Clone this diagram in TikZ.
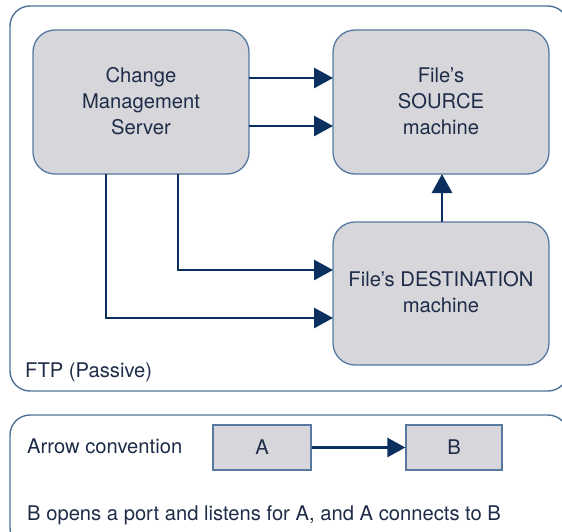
\documentclass[tikz,border=0pt]{standalone}
\usepackage{fontspec}
\setmainfont{TeX Gyre Heros}
\usetikzlibrary{arrows.meta,calc}
\definecolor{navy}{HTML}{0B2F5E}
\definecolor{txtc}{HTML}{1E2C48}
\definecolor{framec}{HTML}{4F7299}
\definecolor{boxfill}{HTML}{D6D6DB}
\definecolor{boxline}{HTML}{5778A0}
\begin{document}
\begin{tikzpicture}[x=1pt,y=-1pt,
  font=\fontsize{20.2}{26}\selectfont,
  every node/.style={text=txtc},
  frame/.style={draw=framec,line width=1.4pt,rounded corners=20pt},
  machine/.style={draw=boxline,fill=boxfill,line width=1.3pt,rounded corners=22pt,align=center},
  legbox/.style={draw=boxline,fill=boxfill,line width=1.3pt},
  conn/.style={draw=navy,line width=2.9pt,-{Triangle[length=19pt,width=20pt]}},
  lbl/.style={anchor=base west,inner sep=0pt}]
\useasboundingbox (0,0) rectangle (562,532);
\begin{scope}
\clip (0,0) rectangle (562,532);
\draw[frame] (10,6) rectangle (568,391);
\draw[frame] (10,415) rectangle (568,548);
\end{scope}
% machines
\path[machine] (33,30) rectangle (249,174);
\node[align=center,inner sep=0pt] (cms) at (141,101) {Change\\Management\\Server};
\coordinate (cmsE) at (249,102);
\coordinate (cmsS) at (141,174);
\path[machine] (333,30) rectangle (549,174);
\node[align=center,inner sep=0pt] (src) at (441,101) {File’s\\SOURCE\\machine};
\coordinate (srcW) at (333,102);
\coordinate (srcS) at (442,174);
\path[machine] (333,222) rectangle (549,365);
\node[align=center,inner sep=0pt] (dst) at (441,292) {File’s DESTINATION\\machine};
\coordinate (dstW) at (333,294);
\coordinate (dstN) at (442,222);
% helper levels
\coordinate (ya) at (0,78);
\coordinate (yb) at (0,126);
\coordinate (yc) at (0,270);
\coordinate (yd) at (0,318);
\coordinate (xa) at (178,0);
\coordinate (xb) at (106,0);
% connectors
\draw[conn] (cmsE |- ya) -- (srcW |- ya);
\draw[conn] (cmsE |- yb) -- (srcW |- yb);
\draw[conn] (xa |- cmsS) -- (xa |- yc) -- (dstW |- yc);
\draw[conn] (xb |- cmsS) -- (xb |- yd) -- (dstW |- yd);
\draw[conn] (dstN) -- (srcS);
% labels
\node[lbl] (ftp) at (25,377) {FTP (Passive)};
\node[lbl] (conv) at (27,453) {Arrow convention};
\node[legbox,minimum width=98pt,minimum height=45pt] (A) at (262,447.5) {A};
\node[legbox,minimum width=96pt,minimum height=45pt] (B) at (454,447.5) {B};
\draw[conn,line width=2.7pt,-{Triangle[length=18pt,width=19pt]}] (A) -- (B);
\node[lbl] (expl) at (27,520) {B opens a port and listens for A, and A connects to B};
\end{tikzpicture}
\end{document}
